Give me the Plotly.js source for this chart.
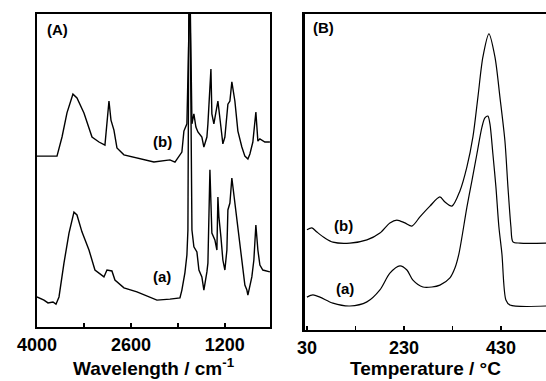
<!DOCTYPE html>
<html>
<head>
<meta charset="utf-8">
<script src="https://cdn.plot.ly/plotly-3.0.1.min.js"></script>
<style>html,body{margin:0;padding:0;background:#fff;}#chart{width:546px;height:381px;}</style>
</head>
<body>
<div id="chart"></div>
<script>
// Panel A: IR spectra (wavenumber, cm-1) and intensity (arbitrary units)
const irWaveB = [4000,3702,3627,3553,3464,3404,3300,3180,3076,2987,2927,2897,2853,2808,2704,2510,2257,2018,1943,1840,1810,1765,1735,1720,1690,1661,1631,1601,1542,1512,1467,1452,1407,1393,1363,1318,1303,1258,1229,1199,1154,1124,1095,1050,1005,946,901,856,826,782,737,707,677,603,528];
const irIntB  = [54.6,54.6,60.7,68.4,74.4,73.2,68.4,60.7,59.1,58.1,72.2,66.1,62.9,57.2,55.0,54.0,52.7,53.4,52.7,55.9,62.6,64.9,110,110,64.9,68.1,63.9,62.3,60.7,57.5,60.7,64.9,82.4,68.1,64.9,71.2,72.2,63.9,58.5,60.7,71.2,72.2,78.3,72.2,62.6,57.5,54.6,53.7,55.3,59.1,68.7,59.4,60.1,59.1,59.1];
const irWaveA = [4000,3896,3836,3762,3717,3672,3598,3523,3449,3404,3330,3225,3136,3002,2957,2883,2838,2704,2510,2316,2212,2018,1869,1840,1795,1765,1750,1735,1720,1690,1661,1616,1586,1542,1512,1467,1452,1422,1393,1348,1318,1303,1288,1258,1229,1199,1169,1154,1124,1095,1050,1005,946,901,871,856,797,767,737,707,677,633,528];
const irIntA  = [9.6,8.6,7.7,8.0,7.3,9.6,20.4,30.0,36.7,35.8,30.4,24.6,18.2,16.0,18.2,17.9,15.0,12.5,11.2,9.6,8.6,8.9,9.3,11.8,17.3,23.0,31.0,110,110,31.0,25.6,24.0,18.2,16.0,11.8,17.6,20.4,50.2,30.0,27.8,24.6,41.5,35.1,28.8,21.4,18.2,24.6,37.4,39.6,47.6,39.6,30.0,20.4,13.4,11.8,10.2,16.0,21.4,32.6,24.6,19.8,18.2,17.6];

// Panel B: thermal curves (temperature, °C) and signal (arbitrary units)
const tempB = [30,40.3,50.6,67.1,83.6,118.7,153.7,180.5,201.1,215.6,232.1,246.5,263.0,283.6,304.2,314.6,329.0,345.5,359.9,372.3,382.6,392.9,405.3,417.7,428.0,438.3,444.5,450.7,454.8,469.2,525];
const sigB  = [31.7,32.3,31.0,29.1,27.8,27.5,28.5,30.7,33.9,34.8,33.9,32.9,35.8,39.2,42.1,40.5,39.2,44.0,51.6,61.1,73.7,86.4,93.7,86.4,73.7,59.8,45.3,32.6,27.9,27.5,27.5];
const tempA = [30,42.4,56.8,83.6,118.7,153.7,180.5,201.1,221.8,236.2,248.6,269.2,287.8,304.2,324.9,335.2,343.4,359.9,370.2,380.5,390.9,397.0,403.2,407.4,413.5,419.7,425.9,432.1,440.3,448.6,525];
const sigA  = [10.4,11.1,10.4,8.5,7.6,8.9,12.7,18.0,20.3,19.0,15.8,13.6,13.6,14.2,16.5,19.6,24.1,38.9,47.2,55.7,64.2,67.1,67.7,65.2,55.7,45.3,32.6,24.1,9.5,7.9,7.6];

// Tick labels (major, labelled) and unlabelled minor ticks
const xTicksA = [4000,2600,1200];
const xTickTextA = ['4000','2600','1200'];
const xMinorA = [3300,1900];
const xTicksB = [30,230,430];
const xTickTextB = ['30','230','430'];
const xMinorB = [130,330];

const FONT = 'Arial, "Liberation Sans", sans-serif';
const lineA = {color:'#000', width:1.4};
const lineB = {color:'#000', width:1.2, shape:'spline', smoothing:0.8};

const traces = [
  {x: irWaveB, y: irIntB, xaxis:'x', yaxis:'y', mode:'lines', line:lineA, hoverinfo:'skip'},
  {x: irWaveA, y: irIntA, xaxis:'x', yaxis:'y', mode:'lines', line:lineA, hoverinfo:'skip'},
  {x: tempB, y: sigB, xaxis:'x2', yaxis:'y2', mode:'lines', line:lineB, hoverinfo:'skip'},
  {x: tempA, y: sigA, xaxis:'x2', yaxis:'y2', mode:'lines', line:lineB, hoverinfo:'skip'}
];

const axisCommon = {
  showgrid:false, zeroline:false, showline:true, linecolor:'#000', linewidth:2,
  ticks:'inside', ticklen:4, tickwidth:1.5, tickcolor:'#000',
  tickfont:{family:FONT, size:18, color:'#000', weight:'bold'}
};

const labelFont = {family:FONT, size:15, color:'#000', weight:'bold'};

const layout = {
  width:546, height:381,
  margin:{l:37, r:0, t:14, b:51},
  paper_bgcolor:'#fff', plot_bgcolor:'#fff',
  showlegend:false,
  xaxis: Object.assign({}, axisCommon, {
    domain:[0, 0.4578], range:[4000, 526], autorange:false, mirror:true,
    tickmode:'array', tickvals:xTicksA, ticktext:xTickTextA,
    minor:{tickmode:'array', tickvals:xMinorA, ticks:'inside', ticklen:4, tickwidth:1.5, tickcolor:'#000', showgrid:false},
    title:{text:'Wavelength / cm<sup>-1</sup>', font:{family:FONT, size:19, color:'#000', weight:'bold'}, standoff:4}
  }),
  yaxis: Object.assign({}, axisCommon, {
    domain:[0.0095, 1], range:[0, 100], mirror:true, showticklabels:false, ticks:''
  }),
  xaxis2: Object.assign({}, axisCommon, {
    anchor:'y2', domain:[0.5265, 1], range:[26, 523], mirror:true,
    tickmode:'array', tickvals:xTicksB, ticktext:xTickTextB,
    minor:{tickmode:'array', tickvals:xMinorB, ticks:'inside', ticklen:4, tickwidth:1.5, tickcolor:'#000', showgrid:false},
    title:{text:'Temperature / °C', font:{family:FONT, size:19, color:'#000', weight:'bold'}, standoff:4}
  }),
  yaxis2: Object.assign({}, axisCommon, {
    anchor:'x2', domain:[0, 1], range:[0, 100], mirror:false, showticklabels:false, ticks:'', linewidth:2.5
  }),
  annotations: [
    {xref:'x', yref:'y', x:3687, y:95.2, text:'(A)', showarrow:false, font:labelFont},
    {xref:'x', yref:'y', x:2123, y:59.4, text:'(b)', showarrow:false, font:labelFont},
    {xref:'x', yref:'y', x:2138, y:16.0, text:'(a)', showarrow:false, font:labelFont},
    {xref:'x2', yref:'y2', x:65, y:95.6, text:'(B)', showarrow:false, font:labelFont},
    {xref:'x2', yref:'y2', x:106, y:33.2, text:'(b)', showarrow:false, font:labelFont},
    {xref:'x2', yref:'y2', x:108, y:13.0, text:'(a)', showarrow:false, font:labelFont}
  ]
};

Plotly.newPlot('chart', traces, layout, {staticPlot:true, displayModeBar:false});
</script>
</body>
</html>
